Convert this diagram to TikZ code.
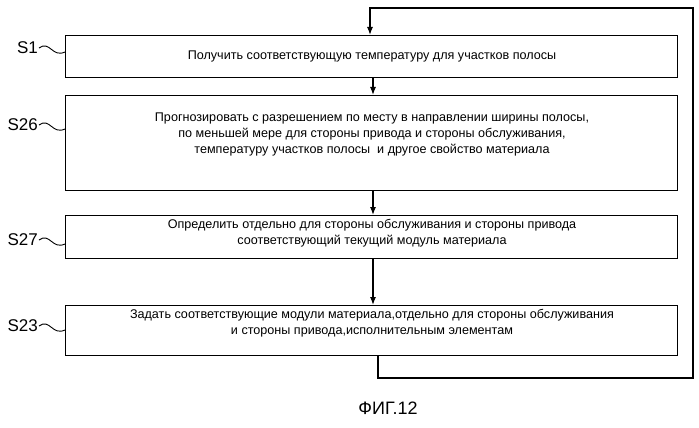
\documentclass[tikz,border=0pt]{standalone}
\usepackage{fontspec}
\setmainfont{Liberation Sans}
\usetikzlibrary{arrows.meta}
\tikzset{
  stepbox/.style={draw,line width=1.2pt,minimum width=612pt,anchor=north west,inner sep=0pt},
  steptext/.style={font=\fontsize{12.6}{16}\selectfont,align=center},
  steplabel/.style={font=\fontsize{17}{19}\selectfont,anchor=east,inner sep=1pt},
  flow/.style={line width=1.2pt,-{Latex[length=8pt,width=6pt]}}
}
\begin{document}
\begin{tikzpicture}[x=1pt,y=-1pt]
    \useasboundingbox (0,0) rectangle (699,428);

    % boxes
    \node[stepbox,minimum height=42pt] (s1) at (65,35) {};
    \node[steptext] at (372,56) {Получить соответствующую температуру для участков полосы};

    \node[stepbox,minimum height=95pt] (s26) at (65,95) {};
    \node[steptext] at (372,134) {Прогнозировать с разрешением по месту в направлении ширины полосы,\\
      по меньшей мере для стороны привода и стороны обслуживания,\\
      температуру участков полосы \ и другое свойство материала};

    \node[stepbox,minimum height=43pt] (s27) at (65,215) {};
    \node[steptext] at (372,233) {Определить отдельно для стороны обслуживания и стороны привода\\
      соответствующий текущий модуль материала};

    \node[stepbox,minimum height=50pt] (s23) at (65,305) {};
    \node[steptext] at (372,323) {Задать соответствующие модули материала,отдельно для стороны обслуживания\\
      и стороны привода,исполнительным элементам};

    % labels
    \node[steplabel] (l1) at (39,48) {S1};
    \node[steplabel] (l26) at (39,125) {S26};
    \node[steplabel] (l27) at (39,240) {S27};
    \node[steplabel] (l23) at (39,326) {S23};
    \foreach \n/\y in {l1/48,l26/125,l27/240,l23/326}
      \draw[line width=0.9pt] (\n.east) .. controls (50,\y-8) and (52,\y+10) .. (65,\y+4);

    % connectors
    \draw[flow] (s1.south -| 373,0) -- (s26.north -| 373,0);
    \draw[flow] (s26.south -| 373,0) -- (s27.north -| 373,0);
    \draw[flow] (s27.south -| 373,0) -- (s23.north -| 373,0);
    \coordinate (c1) at (378,378);
    \coordinate (c2) at (693,378);
    \coordinate (c3) at (693,8);
    \coordinate (c4) at (370,8);
    \draw[flow] (s23.south -| c1) -- (c1) -- (c2) -- (c3) -- (c4) -- (s1.north -| c4);

    \node[font=\fontsize{18}{20}\selectfont] (cap) at (388,408) {ФИГ.12};
\end{tikzpicture}
\end{document}
